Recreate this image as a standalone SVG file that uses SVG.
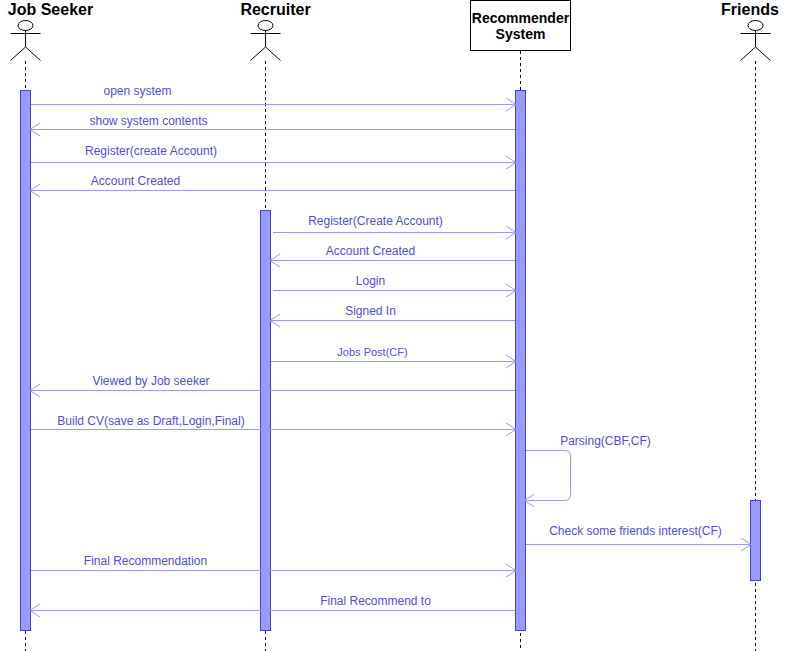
<svg xmlns="http://www.w3.org/2000/svg" width="786" height="651" viewBox="0 0 786 651">
<style>
.title{font:bold 16px "Liberation Sans",Arial,sans-serif;fill:#000;text-anchor:middle}
.box{font:bold 14px "Liberation Sans",Arial,sans-serif;fill:#000;text-anchor:middle}
.lab{font:12px "Liberation Sans",Arial,sans-serif;fill:#5050d0;text-anchor:middle}
.life{stroke:#000;stroke-width:1;stroke-dasharray:3 3;fill:none}
.act{fill:#9999ff;stroke:#4444cc;stroke-width:1}
.fig{fill:none;stroke:#000;stroke-width:1}
.msg{fill:none;stroke:#9999ee;stroke-width:1}
.head{fill:none;stroke:#9999ee;stroke-width:1}
</style>
<defs>
<marker id="open" markerWidth="12" markerHeight="16" refX="10.5" refY="7.5" orient="auto" markerUnits="userSpaceOnUse"><path class="head" d="M0.5 1 L10.5 7.500 L0.500 14"/></marker>
<g id="actor"><ellipse class="fig" cx="0" cy="25.500" rx="7.500" ry="5"/><path class="fig" d="M0 30.500V47M-15 33.500H15M-15 60.500L0 47L15 60.500"/></g>
</defs>
<g id="lifelines">
<path class="life" d="M25.500 61V651"/><path class="life" d="M265.500 61V651"/><path class="life" d="M520.500 51V651"/><path class="life" d="M755.500 61V651"/>
</g>
<g id="job-seeker"><text class="title" x="50.500" y="15">Job Seeker</text><use href="#actor" x="25.500"/><rect class="act" x="20.500" y="90.500" width="10" height="540"/></g>
<g id="recruiter"><text class="title" x="275.500" y="15">Recruiter</text><use href="#actor" x="265.500"/><rect class="act" x="260.500" y="210.500" width="10" height="420"/></g>
<g id="recommender-system"><rect x="470.500" y="0.500" width="100" height="50" fill="#fff" stroke="#000"/><text class="box" x="520.500" y="23">Recommender</text><text class="box" x="520.500" y="39">System</text><rect class="act" x="515.500" y="90.500" width="10" height="540"/></g>
<g id="friends"><text class="title" x="750" y="15">Friends</text><use href="#actor" x="755.500"/><rect class="act" x="750.500" y="500.500" width="10" height="80"/></g>
<g id="connectors">
<path class="msg" marker-end="url(#open)" d="M31 104.500H516"/>
<path class="msg" marker-end="url(#open)" d="M515 129.500H30"/>
<path class="msg" marker-end="url(#open)" d="M31 162.500H516"/>
<path class="msg" marker-end="url(#open)" d="M515 190.500H30"/>
<path class="msg" marker-end="url(#open)" d="M273 232.500H516"/>
<path class="msg" marker-end="url(#open)" d="M515 260.500H270"/>
<path class="msg" marker-end="url(#open)" d="M273 290.500H516"/>
<path class="msg" marker-end="url(#open)" d="M515 320.500H270"/>
<path class="msg" marker-end="url(#open)" d="M271 361.500H516"/>
<path class="msg" marker-end="url(#open)" d="M515 390.500H30"/>
<path class="msg" marker-end="url(#open)" d="M31 429.500H516"/>
<path class="msg" marker-end="url(#open)" d="M526 450.500H564.500Q570.500 450.500 570.500 456.500V494.500Q570.500 500.500 564.500 500.500H524.500"/>
<path class="msg" marker-end="url(#open)" d="M526 544.500H751"/>
<path class="msg" marker-end="url(#open)" d="M31 570.500H516"/>
<path class="msg" marker-end="url(#open)" d="M515 610.500H30"/>
</g>
<g id="labels">
<text class="lab" x="137.500" y="95">open system</text>
<text class="lab" x="148.500" y="125">show system contents</text>
<text class="lab" x="151" y="155">Register(create Account)</text>
<text class="lab" x="135.500" y="185">Account Created</text>
<text class="lab" x="375.500" y="225">Register(Create Account)</text>
<text class="lab" x="370.500" y="255">Account Created</text>
<text class="lab" x="370.500" y="285">Login</text>
<text class="lab" x="370.500" y="315">Signed In</text>
<text class="lab" x="372.500" y="356" style="font-size:11px">Jobs Post(CF)</text>
<text class="lab" x="151" y="385">Viewed by Job seeker</text>
<text class="lab" x="151" y="425">Build CV(save as Draft,Login,Final)</text>
<text class="lab" x="605.500" y="445">Parsing(CBF,CF)</text>
<text class="lab" x="635.500" y="535">Check some friends interest(CF)</text>
<text class="lab" x="145.500" y="565">Final Recommendation</text>
<text class="lab" x="375.500" y="605">Final Recommend to</text>
</g>
</svg>
